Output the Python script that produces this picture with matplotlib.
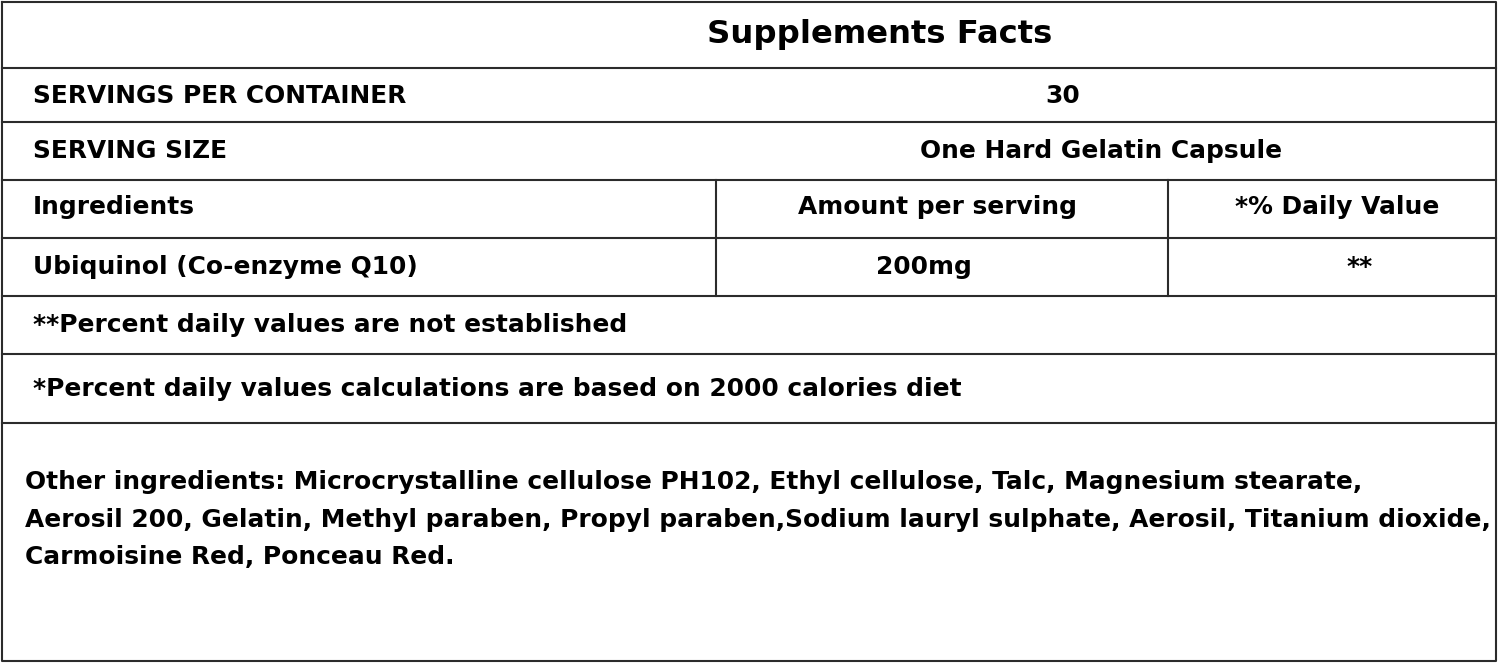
import matplotlib
matplotlib.use("Agg")
import matplotlib.pyplot as plt

# --- dados da tabela ---
title = "Supplements Facts"
row_labels = ["SERVINGS PER CONTAINER", "SERVING SIZE"]
row_values = ["30", "One Hard Gelatin Capsule"]
header_cols = ["Ingredients", "Amount per serving", "*% Daily Value"]
ingredient_row = ["Ubiquinol (Co-enzyme Q10)", "200mg", "**"]
notes = ["**Percent daily values are not established",
         "*Percent daily values calculations are based on 2000 calories diet"]
other_lines = [
    "Other ingredients: Microcrystalline cellulose PH102, Ethyl cellulose, Talc, Magnesium stearate,",
    "Aerosil 200, Gelatin, Methyl paraben, Propyl paraben,Sodium lauryl sulphate, Aerosil, Titanium dioxide,",
    "Carmoisine Red, Ponceau Red.",
]

# --- layout (pixels) ---
W, H = 1500, 664
hlines = [68, 122, 180, 238, 296, 354, 423]
vlines = [716, 1168]
col_centers = [1063, 1101]          # centros das linhas 30 / capsule
hdr_centers = [938, 1337]
ing_centers = [924, 1360]
row_y = [96, 151, 207, 267, 325, 389]
other_y = [482, 520, 557]

plt.rcParams['font.family'] = ['DejaVu Sans']
fig = plt.figure(figsize=(W / 100, H / 100), dpi=100)
ax = fig.add_axes([0, 0, 1, 1])
ax.set_xlim(0, W)
ax.set_ylim(H, 0)
ax.axis('off')

lc = '#2b2b2b'
lw = 1.5
# borda externa
ax.plot([2, 1496, 1496, 2, 2], [2, 2, 661, 661, 2], color=lc, lw=lw)
for y in hlines:
    ax.plot([2, 1496], [y, y], color=lc, lw=lw)
for x in vlines:
    ax.plot([x, x], [180, 296], color=lc, lw=lw)

fs = 17.9
kw = dict(fontweight='bold', color='black', va='center')

ax.text(880, 35, title, fontsize=23.2, ha='center', **kw)

for i, (lab, val) in enumerate(zip(row_labels, row_values)):
    ax.text(33, row_y[i], lab, fontsize=fs, ha='left', **kw)
    ax.text(col_centers[i], row_y[i], val, fontsize=fs, ha='center', **kw)

ax.text(33, row_y[2], header_cols[0], fontsize=fs, ha='left', **kw)
ax.text(hdr_centers[0], row_y[2], header_cols[1], fontsize=fs, ha='center', **kw)
ax.text(hdr_centers[1], row_y[2], header_cols[2], fontsize=fs, ha='center', **kw)

ax.text(33, row_y[3], ingredient_row[0], fontsize=fs, ha='left', **kw)
ax.text(ing_centers[0], row_y[3], ingredient_row[1], fontsize=fs, ha='center', **kw)
ax.text(ing_centers[1], row_y[3], ingredient_row[2], fontsize=fs, ha='center', **kw)

for note, y in zip(notes, row_y[4:]):
    ax.text(33, y, note, fontsize=fs, ha='left', **kw)

for line, y in zip(other_lines, other_y):
    ax.text(25, y, line, fontsize=fs, ha='left', **kw)

fig.savefig("out.png", dpi=100)
